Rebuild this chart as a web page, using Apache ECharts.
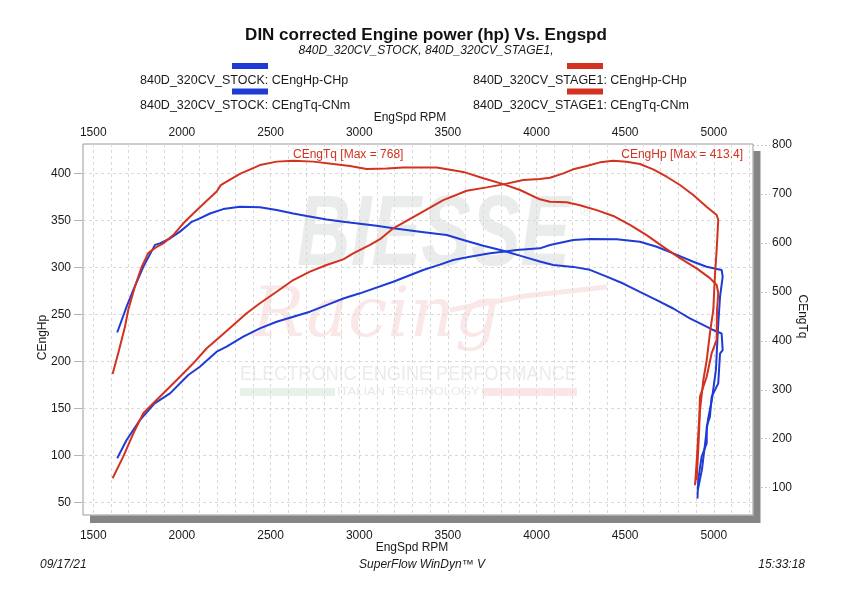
<!DOCTYPE html>
<html><head><meta charset="utf-8">
<script src="https://cdn.jsdelivr.net/npm/echarts@6/dist/echarts.min.js"></script>
<style>html,body{margin:0;padding:0;background:#fff}#c{width:842px;height:595px}</style>
</head><body><div id="c"></div>
<script>
const FONT = '"Liberation Sans", Arial, sans-serif';
const BLUE = '#1f3bd6';
const RED = '#d2321f';
const SHADOW = '#858585';
const GRIDC = '#d9d9d9';

const rpmLabels = [1500, 2000, 2500, 3000, 3500, 4000, 4500, 5000];
const rpmGridLines = [1500,1600,1700,1800,1900,2000,2100,2200,2300,2400,2500,2600,2700,2800,2900,3000,3100,3200,3300,3400,3500,3600,3700,3800,3900,4000,4100,4200,4300,4400,4500,4600,4700,4800,4900,5000,5100,5200];
const hpLabels = [50, 100, 150, 200, 250, 300, 350, 400];
const nmLabels = [100, 200, 300, 400, 500, 600, 700, 800];

const seriesNames = ['840D_320CV_STOCK: CEngHp-CHp', '840D_320CV_STOCK: CEngTq-CNm', '840D_320CV_STAGE1: CEngHp-CHp', '840D_320CV_STAGE1: CEngTq-CNm'];

const stockHpRpm = [1635,1688,1763,1846,1933,2036,2101,2196,2252,2346,2440,2534,2628,2722,2816,2910,3004,3192,3361,3455,3530,3624,3737,3812,3888,4019,4076,4207,4301,4452,4583,4678,4771,4884,4959,5044,5050,5035,5023,5012,4989,4967,4950,4933,4910];
const stockHpVal = [97.2,116.6,137.8,155.6,166.2,185.7,194.5,210.5,215.8,226.4,235.3,242.3,247.6,253,260,267,272.5,284.8,297.3,303,307.9,311.4,315,316.7,318.5,320.3,323.8,329.1,330.2,329.9,327.3,322,315,306.1,300.8,297.3,290.2,268.6,233.8,191.3,159.4,138.2,111.6,85.1,63.8];

const stockTqRpm = [1635,1688,1726,1782,1848,1876,1933,1989,2036,2055,2101,2158,2233,2327,2440,2534,2628,2704,2816,2910,3004,3098,3192,3342,3493,3587,3700,3812,3925,4019,4094,4207,4301,4396,4489,4583,4678,4771,4865,4959,4997,5044,5050,5035,5025,4988,4978,4960,4960,4931,4912,4908];
const stockTqVal = [417,470,504,551,596,599,609,623,637,643,650,660,669,674,673,667,660,655,648,643,639,635,630,623,616,606,594,584,572,562,555,551,545,531,517,500,483,466,446,429,422,415,381,374,313,286,245,225,191,163,116,78];

const stage1HpRpm = [1609,1669,1726,1782,1838,1914,1989,2064,2140,2215,2290,2365,2440,2534,2628,2722,2816,2910,2966,3061,3117,3192,3342,3474,3606,3719,3812,3925,4019,4076,4151,4207,4283,4358,4433,4508,4583,4658,4734,4809,4884,4959,5016,5025,5016,5006,4997,4978,4960,4941,4922,4912,4903];
const stage1HpVal = [75.9,98.9,123.7,145,155.6,169.8,183.9,198.1,214.1,226.4,238.8,251.3,261.9,274.2,286.6,295.5,302.6,308.6,315,324,330,341.6,357.5,371.6,381.5,385.1,388.3,392.9,394,395.3,400,404.3,407.8,411.7,413.4,412.3,409.9,404.3,396.4,387.6,377,364.5,355.7,350.4,318.5,290.1,254.8,230.3,201.6,180.4,148.5,106,74.1];

const stage1TqRpm = [1609,1641,1679,1697,1735,1773,1810,1858,1895,1951,2008,2064,2140,2196,2219,2252,2327,2440,2534,2628,2741,2854,2948,3042,3155,3248,3437,3587,3700,3812,3907,4019,4076,4170,4245,4339,4433,4527,4621,4715,4809,4903,4978,5016,5025,5018,5016,4988,4960,4922,4918,4904,4894];
const stage1TqVal = [332,375,429,463,511,551,579,592,599,616,640,660,686,705,718,725,741,759,766,768,766,761,757,751,752,754,754,745,732,720,708,689,684,683,677,667,655,637,616,592,569,548,528,514,498,463,402,375,327,286,245,157,105];

const pairs = (xs, ys) => xs.map((x, i) => [x, ys[i]]);
const plain = v => String(v);

const G = {left: 83, top: 144, width: 670, height: 371};
const axisLabelStyle = {fontFamily: FONT, fontSize: 12, color: '#1a1a1a', formatter: plain};
const nameStyle = {fontFamily: FONT, fontSize: 12, color: '#1a1a1a'};

const chart = echarts.init(document.getElementById('c'), null, {renderer: 'canvas'});

function lineSeries(name, data, color, yIdx) {
  return {
    name, type: 'line', data, xAxisIndex: 0, yAxisIndex: yIdx,
    showSymbol: false, symbol: 'none', smooth: false, z: 3,
    lineStyle: {color, width: 2}, itemStyle: {color}
  };
}

const legendItems = [];
const legendDefs = [
  {name: seriesNames[0], color: BLUE, barX: 232, textX: 140, row: 0},
  {name: seriesNames[1], color: BLUE, barX: 232, textX: 140, row: 1},
  {name: seriesNames[2], color: RED, barX: 567, textX: 473, row: 0},
  {name: seriesNames[3], color: RED, barX: 567, textX: 473, row: 1}
];
legendDefs.forEach(d => {
  legendItems.push({type: 'rect', shape: {x: d.barX, y: 63 + d.row * 25.5, width: 36, height: 6}, style: {fill: d.color}});
  legendItems.push({type: 'text', x: d.textX, y: 80.5 + d.row * 25, style: {text: d.name, font: '12.5px ' + FONT, fill: '#1a1a1a', textAlign: 'left', textVerticalAlign: 'middle'}});
});

const watermark = [
  {type: 'text', x: 297, y: 237, scaleX: 0.745, z: 0.5, silent: true,
   style: {text: 'BIESSE', font: 'italic bold 100px ' + FONT, fill: '#eaecec', textAlign: 'left', textVerticalAlign: 'middle'}},
  {type: 'text', x: 580, y: 212, z: 0.5, silent: true,
   style: {text: '®', font: '16px ' + FONT, fill: '#eaecec', textAlign: 'left', textVerticalAlign: 'middle'}},
  {type: 'text', x: 252, y: 318, z: 0.5, silent: true,
   style: {text: 'Racing', font: 'italic 70px "DejaVu Serif", serif', fill: '#fae8e8', textAlign: 'left', textVerticalAlign: 'middle'}},
  {type: 'polyline', z: 0.5, silent: true, shape: {points: [[450, 310], [525, 296], [607, 287]]},
   style: {stroke: '#fae8e8', lineWidth: 5, fill: null}},
  {type: 'text', x: 240, y: 374, scaleX: 0.905, z: 0.5, silent: true,
   style: {text: 'ELECTRONIC ENGINE PERFORMANCE', font: '20px ' + FONT, fill: '#ebebeb', textAlign: 'left', textVerticalAlign: 'middle'}},
  {type: 'rect', z: 0.5, silent: true, shape: {x: 240, y: 388, width: 95, height: 8}, style: {fill: '#e7f3ea'}},
  {type: 'rect', z: 0.5, silent: true, shape: {x: 482, y: 388, width: 95, height: 8}, style: {fill: '#fae6e6'}},
  {type: 'text', x: 337, y: 392.5, scaleX: 1.3, z: 0.5, silent: true,
   style: {text: 'ITALIAN TECHNOLOGY', font: '10px ' + FONT, fill: '#e8e8e8', textAlign: 'left', textVerticalAlign: 'middle'}}
];

const shadows = [
  {type: 'rect', z: 10, silent: true, shape: {x: G.left + G.width + 0.5, y: G.top + 7, width: 7, height: G.height + 1}, style: {fill: SHADOW}},
  {type: 'rect', z: 10, silent: true, shape: {x: G.left + 7, y: G.top + G.height + 0.5, width: G.width, height: 7.5}, style: {fill: SHADOW}}
];

const annotations = [
  {type: 'text', x: 293, y: 155, z: 5, style: {text: 'CEngTq [Max = 768]', font: '12px ' + FONT, fill: RED, textAlign: 'left', textVerticalAlign: 'middle'}},
  {type: 'text', x: 743, y: 155, z: 5, style: {text: 'CEngHp [Max = 413.4]', font: '12px ' + FONT, fill: RED, textAlign: 'right', textVerticalAlign: 'middle'}}
];

const footer = [
  {type: 'text', x: 40, y: 565, style: {text: '09/17/21', font: 'italic 12px ' + FONT, fill: '#1a1a1a', textAlign: 'left', textVerticalAlign: 'middle'}},
  {type: 'text', x: 422, y: 565, style: {text: 'SuperFlow WinDyn™ V', font: 'italic 12px ' + FONT, fill: '#1a1a1a', textAlign: 'center', textVerticalAlign: 'middle'}},
  {type: 'text', x: 805, y: 565, style: {text: '15:33:18', font: 'italic 12px ' + FONT, fill: '#1a1a1a', textAlign: 'right', textVerticalAlign: 'middle'}}
];

const option = {
  animation: false,
  backgroundColor: '#ffffff',
  title: {
    text: 'DIN corrected Engine power (hp) Vs. Engspd',
    subtext: '840D_320CV_STOCK, 840D_320CV_STAGE1,',
    left: 426, top: 27, textAlign: 'center', itemGap: 1, padding: 0,
    textStyle: {fontFamily: FONT, fontSize: 17, fontWeight: 'bold', color: '#111'},
    subtextStyle: {fontFamily: FONT, fontSize: 12, fontStyle: 'italic', color: '#1a1a1a'}
  },
  grid: {left: G.left, top: G.top, width: G.width, height: G.height, show: true,
         backgroundColor: '#ffffff', borderColor: '#9a9a9a', borderWidth: 1},
  xAxis: [
    {type: 'value', position: 'bottom', min: 1442, max: 5221, z: 1,
     axisLine: {show: false}, axisTick: {show: false, customValues: rpmGridLines},
     axisLabel: Object.assign({customValues: rpmLabels, margin: 15}, axisLabelStyle),
     splitLine: {show: true, lineStyle: {type: [3, 3], color: GRIDC, width: 1}},
     name: 'EngSpd RPM', nameLocation: 'middle', nameGap: 26.5, nameMoveOverlap: false,
     nameTextStyle: Object.assign({padding: [0, 12, 0, 0]}, nameStyle)},
    {type: 'value', position: 'top', min: 1442, max: 5221, z: 1,
     axisLine: {show: false}, axisTick: {show: false},
     axisLabel: Object.assign({customValues: rpmLabels, margin: 5}, axisLabelStyle),
     splitLine: {show: false},
     name: 'EngSpd RPM', nameLocation: 'middle', nameGap: 20, nameMoveOverlap: false,
     nameTextStyle: Object.assign({padding: [0, 16, 0, 0]}, nameStyle)}
  ],
  yAxis: [
    {type: 'value', position: 'left', min: 36.9, max: 431.2, z: 1,
     axisLine: {show: false},
     axisTick: {show: true, length: 9, customValues: hpLabels, lineStyle: {color: '#b5b5b5'}},
     axisLabel: Object.assign({customValues: hpLabels, margin: 12}, axisLabelStyle),
     splitLine: {show: true, lineStyle: {type: [3, 3], color: GRIDC, width: 1}},
     name: 'CEngHp', nameLocation: 'middle', nameGap: 34.5, nameRotate: 90, nameMoveOverlap: false,
     nameTextStyle: Object.assign({padding: [0, 16, 0, 0]}, nameStyle)},
    {type: 'value', position: 'right', min: 44.2, max: 802, z: 1,
     axisLine: {show: false},
     axisTick: {show: true, length: 17, customValues: nmLabels, lineStyle: {color: '#c8c8c8', type: [2, 2]}},
     axisLabel: Object.assign({customValues: nmLabels, margin: 19}, axisLabelStyle),
     splitLine: {show: false},
     name: 'CEngTq', nameLocation: 'middle', nameGap: 43.5, nameRotate: -90, nameMoveOverlap: false,
     nameTextStyle: Object.assign({padding: [0, 26, 0, 0]}, nameStyle)}
  ],
  series: [
    lineSeries(seriesNames[0], pairs(stockHpRpm, stockHpVal), BLUE, 0),
    lineSeries(seriesNames[1], pairs(stockTqRpm, stockTqVal), BLUE, 1),
    lineSeries(seriesNames[2], pairs(stage1HpRpm, stage1HpVal), RED, 0),
    lineSeries(seriesNames[3], pairs(stage1TqRpm, stage1TqVal), RED, 1)
  ],
  graphic: [].concat(watermark, shadows, legendItems, annotations, footer)
};
chart.setOption(option);
</script>
</body></html>
